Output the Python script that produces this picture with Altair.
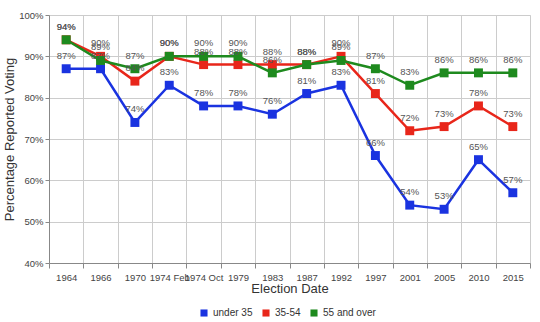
import altair as alt
import pandas as pd

dates = ["1964", "1966", "1970", "1974 Feb", "1974 Oct", "1979", "1983", "1987",
         "1992", "1997", "2001", "2005", "2010", "2015"]
under35 = [87, 87, 74, 83, 78, 78, 76, 81, 83, 66, 54, 53, 65, 57]
mid = [94, 90, 84, 90, 88, 88, 88, 88, 90, 81, 72, 73, 78, 73]
over55 = [94, 89, 87, 90, 90, 90, 86, 88, 89, 87, 83, 86, 86, 86]
series = ["under 35", "35-54", "55 and over"]
colors = ["#1a33e0", "#e8261a", "#1e8a1e"]

rows = []
for name, vals in zip(series, [under35, mid, over55]):
    for d, v in zip(dates, vals):
        rows.append({"date": d, "value": v / 100.0, "series": name})
df = pd.DataFrame(rows)

FONT = "Liberation Sans"

x = alt.X("date:N", sort=dates, title="Election Date",
          scale=alt.Scale(paddingInner=0, paddingOuter=0),
          axis=alt.Axis(labelAngle=0, tickBand="extent", grid=True, gridColor="#cccccc",
                        domainColor="#888888", tickColor="#888888", tickSize=5,
                        labelColor="#444444", labelFontSize=9.5, labelFont=FONT,
                        labelPadding=4, titleFont=FONT, titleFontSize=13,
                        titleFontWeight="normal", titleColor="#333333", titlePadding=1))
y = alt.Y("value:Q", title="Percentage Reported Voting",
          scale=alt.Scale(domain=[0.4, 1.0], nice=False),
          axis=alt.Axis(format=".0%", values=[0.4, 0.5, 0.6, 0.7, 0.8, 0.9, 1.0],
                        gridColor="#cccccc", domainColor="#888888", tickColor="#888888",
                        tickSize=4, labelColor="#444444", labelFontSize=9.5, labelFont=FONT,
                        labelPadding=2,
                        titleFont=FONT, titleFontSize=13, titleFontWeight="normal",
                        titleColor="#333333", titlePadding=2))
color = alt.Color("series:N", scale=alt.Scale(domain=series, range=colors),
                  legend=alt.Legend(title=None, orient="none", legendX=150, legendY=293,
                                    direction="horizontal", symbolType="square",
                                    symbolSize=50, labelFont=FONT, labelFontSize=10,
                                    labelColor="#333333", columnPadding=8,
                                    symbolStrokeWidth=0))

base = alt.Chart(df)
layers = []
for name in series:
    b = base.transform_filter(alt.datum.series == name)
    layers.append(b.mark_line(strokeWidth=2.5).encode(x=x, y=y, color=color))
    layers.append(b.mark_point(shape="square", filled=True, size=80, opacity=1).encode(
        x=x, y=y, color=color))
for name in series:
    layers.append(base.transform_filter(alt.datum.series == name).mark_text(
        dy=-13, fontSize=9.5, font=FONT, color="#555555").encode(
        x=x, y=y, text=alt.Text("value:Q", format=".0%")))

chart = alt.layer(*layers).properties(
    width=481, height=248,
    autosize=alt.AutoSizeParams(type="none"),
    padding={"left": 49, "top": 15, "right": 10, "bottom": 59},
).configure_view(stroke="#cccccc").configure(background="white")

chart.save("out.html", embed_options={"renderer": "svg", "actions": False})
